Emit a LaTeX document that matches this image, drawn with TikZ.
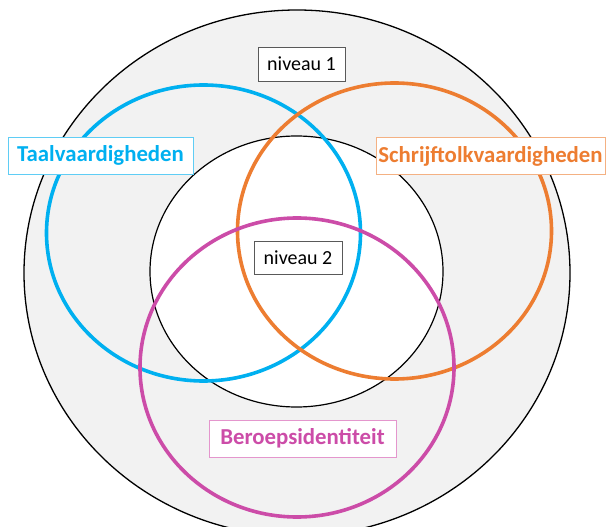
\documentclass[tikz,border=0pt]{standalone}
\usepackage{fontspec}
\setmainfont{Carlito}
\definecolor{cblue}{RGB}{0,176,240}
\definecolor{corange}{RGB}{237,125,49}
\definecolor{cmag}{RGB}{204,76,168}
\definecolor{cblueb}{RGB}{95,205,245}
\definecolor{corangeb}{RGB}{244,177,131}
\definecolor{cmagb}{RGB}{228,150,205}
\definecolor{cgrayfill}{RGB}{242,242,242}
\definecolor{cboxb}{RGB}{89,89,89}
\tikzset{
  ring/.style={line width=3.6pt},
  levelbox/.style={draw=cboxb, line width=0.9pt, fill=white, inner sep=0pt,
    font=\fontsize{20}{22}\selectfont, text=black},
  setbox/.style={line width=0.9pt, fill=white, inner sep=0pt, minimum height=37pt,
    font=\fontsize{22.8}{25}\selectfont\bfseries}
}
\begin{document}
\begin{tikzpicture}[x=1pt,y=-1pt]
\useasboundingbox (0,0) rectangle (606,527);
\begin{scope}
\clip (0,0) rectangle (606,527);
% outer level
\draw[fill=cgrayfill, line width=1.3pt] (297,273) ellipse [x radius=273, y radius=263];
% inner level
\draw[fill=white, line width=1.2pt] (296.5,271.5) ellipse [x radius=146.5, y radius=135.5];
% three sets
\draw[ring, cblue] (203.5,233) ellipse [x radius=157, y radius=148];
\draw[ring, corange] (394.5,231) ellipse [x radius=157, y radius=148];
\draw[ring, cmag] (297,367.5) ellipse [x radius=157, y radius=149.5];
\end{scope}
% labels
\node[levelbox, minimum width=87pt, minimum height=34pt] (n1) at (301.5,64) {niveau 1};
\node[levelbox, minimum width=88pt, minimum height=33pt] (n2) at (298,257.5) {niveau 2};
\node[setbox, draw=cblueb, text=cblue, minimum width=185pt] (taal) at (100.5,155.5) {Taalvaardigheden};
\node[setbox, draw=corangeb, text=corange, minimum width=229pt] (schrijf) at (490.5,156) {Schrijftolkvaardigheden};
\node[setbox, draw=cmagb, text=cmag, minimum width=187pt] (beroep) at (302.5,438.5) {Beroepsidentiteit};
\end{tikzpicture}
\end{document}
